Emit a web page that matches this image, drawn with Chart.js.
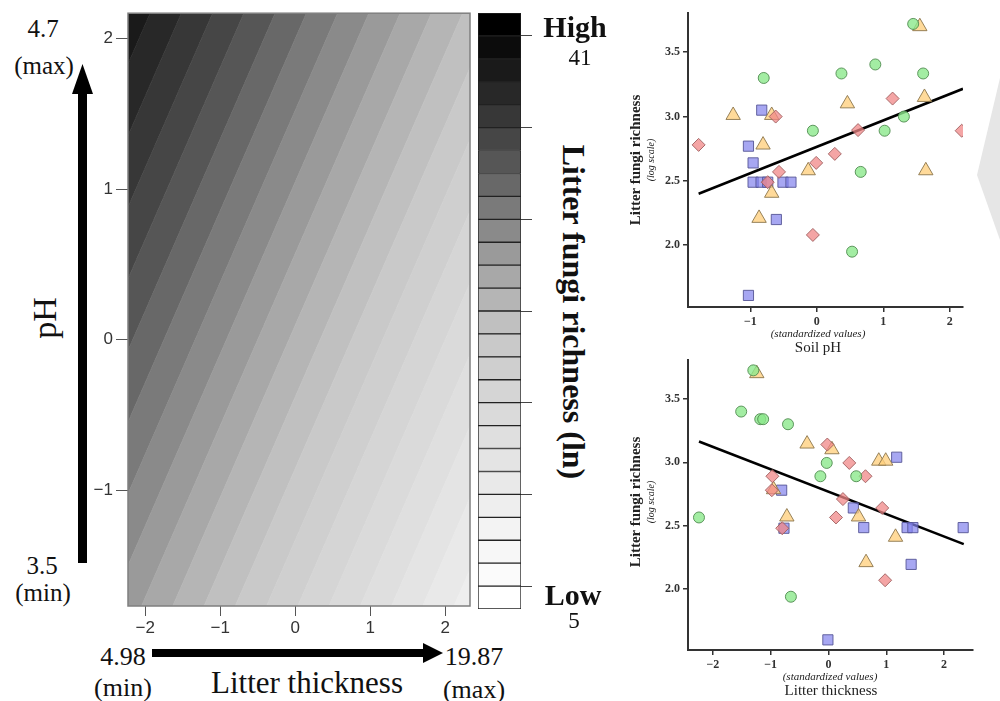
<!DOCTYPE html>
<html>
<head>
<meta charset="utf-8">
<script src="https://cdn.jsdelivr.net/npm/chart.js@4.4.1/dist/chart.umd.min.js"></script>
<style>
  html, body { margin: 0; padding: 0; background: #fff; }
  #page { position: relative; width: 1000px; height: 701px; overflow: hidden; font-family: "Liberation Serif", "Times New Roman", serif; color: #111; }
  canvas { position: absolute; }
  svg { position: absolute; left: 0; top: 0; }
  .t { position: absolute; transform: translate(-50%, -50%); white-space: nowrap; line-height: 1; }
  .up { transform: translate(-50%, -50%) rotate(-90deg); }
  .down { transform: translate(-50%, -50%) rotate(90deg); }
  .b { font-weight: bold; }
  .i { font-style: italic; }
</style>
</head>
<body>
<div id="page">
  <svg width="1000" height="701">
    <polygon points="1000,78 977,175 1000,240" fill="#e6e6e6"/>
    <rect x="78" y="90" width="9" height="473" fill="#000"/>
    <polygon points="72,94 93,94 82.5,64" fill="#000"/>
    <rect x="152" y="649" width="274" height="8" fill="#000"/>
    <polygon points="423,643 423,663 443,653" fill="#000"/>
  </svg>

  <canvas id="heat" width="400" height="640" style="left:90px;top:0"></canvas>
  <canvas id="bar" width="80" height="640" style="left:470px;top:0"></canvas>
  <canvas id="ph" width="370" height="360" style="left:620px;top:0"></canvas>
  <canvas id="lit" width="370" height="350" style="left:620px;top:350px"></canvas>

  <div class="t" style="left:43px;top:28px;font-size:25px">4.7</div>
  <div class="t" style="left:44px;top:65px;font-size:25px">(max)</div>
  <div class="t up" style="left:45px;top:318px;font-size:34px">pH</div>
  <div class="t" style="left:42px;top:565px;font-size:25px">3.5</div>
  <div class="t" style="left:43px;top:592px;font-size:25px">(min)</div>
  <div class="t" style="left:123px;top:657px;font-size:26px">4.98</div>
  <div class="t" style="left:123px;top:688px;font-size:26px">(min)</div>
  <div class="t" style="left:307px;top:682px;font-size:31px">Litter thickness</div>
  <div class="t" style="left:474px;top:657px;font-size:26px">19.87</div>
  <div class="t" style="left:474px;top:690px;font-size:26px">(max)</div>

  <div class="t b" style="left:575px;top:27px;font-size:30px">High</div>
  <div class="t" style="left:580px;top:57px;font-size:23px">41</div>
  <div class="t b down" style="left:574px;top:312px;font-size:32px">Litter fungi richness (ln)</div>
  <div class="t b" style="left:573px;top:595px;font-size:30px">Low</div>
  <div class="t" style="left:574px;top:620px;font-size:23px">5</div>

  <div class="t b up" style="left:635px;top:160px;font-size:15px;color:#222">Litter fungi richness</div>
  <div class="t i up" style="left:651px;top:160px;font-size:10px;color:#222">(log scale)</div>
  <div class="t i" style="left:818px;top:333px;font-size:11px;color:#222">(standardized values)</div>
  <div class="t" style="left:818px;top:347px;font-size:15px;color:#222">Soil pH</div>

  <div class="t b up" style="left:635px;top:502px;font-size:15px;color:#222">Litter fungi richness</div>
  <div class="t i up" style="left:651px;top:502px;font-size:10px;color:#222">(log scale)</div>
  <div class="t i" style="left:830px;top:676px;font-size:11px;color:#222">(standardized values)</div>
  <div class="t" style="left:831px;top:690px;font-size:15px;color:#222">Litter thickness</div>
</div>

<script>
Chart.defaults.animation = false;
Chart.defaults.font.family = '"Liberation Serif", "Times New Roman", serif';

// ---- left panel: predicted richness surface, in colour-bar steps ----
const heatTicksX = [-2, -1, 0, 1, 2];
const heatTicksY = [-1, 0, 1, 2];
const levelAtCentre = 13.8;   // step at litter 0, pH 0
const litterSlope = -2.4;     // steps per SD of litter thickness
const phSlope = 2.1;          // steps per SD of pH
const contourEnds = [-3, 3];  // litter values where each contour line is cut

// colour bar, 26 steps, top (high) to bottom (low)
const levelGreys = [0, 12, 26, 40, 55, 70, 86, 104, 122, 138, 154, 168, 181,
                    192, 201, 207, 213, 218, 223, 228, 233, 238, 243, 247, 251, 255];
const barTicks = [1, 5, 9, 13, 17, 21, 25];

// ---- right panels: observations (standardized x, log richness) ----
const phCircles = [[1.45,3.72],[-0.80,3.30],[0.37,3.335],[0.88,3.405],[1.60,3.335],[-0.06,2.89],[1.02,2.89],[1.31,3.00],[0.66,2.57],[0.53,1.95]];
const phTriangles = [[1.55,3.70],[-1.26,3.01],[-0.68,3.01],[0.46,3.10],[1.62,3.15],[-0.81,2.78],[-0.13,2.58],[1.64,2.58],[-0.68,2.405],[-0.87,2.21]];
const phDiamonds = [[-1.78,2.78],[-0.62,3.00],[0.62,2.895],[1.14,3.14],[2.18,2.89],[0.27,2.71],[-0.01,2.64],[-0.57,2.57],[-0.74,2.49],[-0.06,2.08]];
const phSquares = [[-0.83,3.05],[-1.03,2.77],[-0.96,2.64],[-0.96,2.49],[-0.84,2.49],[-0.74,2.49],[-0.51,2.49],[-0.39,2.49],[-0.61,2.20],[-1.03,1.61]];
const phFit = [[-1.78,2.40],[2.20,3.216]];

const litCircles = [[-1.30,3.725],[-1.51,3.40],[-1.18,3.34],[-1.13,3.34],[-0.70,3.30],[-0.03,2.995],[-0.14,2.89],[0.48,2.89],[-2.24,2.565],[-0.65,1.94]];
const litTriangles = [[-1.24,3.70],[-0.37,3.145],[0.06,3.10],[0.87,3.01],[0.99,3.01],[-0.95,2.785],[-0.72,2.57],[0.52,2.57],[1.16,2.41],[0.65,2.21]];
const litDiamonds = [[-0.02,3.14],[0.36,2.995],[0.64,2.89],[-0.97,2.89],[-0.98,2.78],[0.25,2.71],[0.93,2.64],[0.13,2.565],[-0.80,2.48],[0.98,2.07]];
const litSquares = [[1.18,3.04],[-0.81,2.78],[0.43,2.64],[0.61,2.485],[1.36,2.485],[1.46,2.485],[2.33,2.485],[-0.77,2.48],[1.43,2.195],[-0.01,1.60]];
const litFit = [[-2.24,3.164],[2.34,2.355]];

const richTicks = [2.0, 2.5, 3.0, 3.5];

// helpers
const minus = v => String(v).replace('-', '\u2212');
const fixTicks = list => scale => { scale.ticks = list.map(v => ({ value: v })); };
const setSize = (prop, n) => scale => { scale[prop] = n; };
const grey = k => { const g = levelGreys[25 - k]; return 'rgb(' + g + ',' + g + ',' + g + ')'; };
const pts = pairs => pairs.map(p => ({ x: p[0], y: p[1] }));

const frame = {
  id: 'frame',
  afterDatasetsDraw(chart) {
    const a = chart.chartArea, ctx = chart.ctx;
    ctx.save();
    ctx.strokeStyle = '#7f7f7f';
    ctx.lineWidth = 1.5;
    ctx.strokeRect(a.left, a.top, a.right - a.left, a.bottom - a.top);
    ctx.restore();
  }
};

// contour line j is where the surface reaches step j; band j-1 lies below it
const heatSets = [];
for (let j = 0; j <= 26; j++) {
  const c = j === 0 ? '#ffffff' : grey(j - 1);
  heatSets.push({
    data: contourEnds.map(x => ({ x: x, y: (j - levelAtCentre - litterSlope * x) / phSlope })),
    fill: j === 0 ? 'start' : '-1',
    backgroundColor: c,
    borderColor: c,
    borderWidth: 1,
    pointRadius: 0,
    tension: 0
  });
}

const heatTickFont = { family: '"Liberation Sans", Arial, sans-serif', size: 17 };

new Chart(document.getElementById('heat'), {
  type: 'line',
  data: { datasets: heatSets },
  options: {
    responsive: false,
    layout: { padding: { top: 13, right: 20, left: 0, bottom: 0 } },
    plugins: { legend: { display: false }, tooltip: { enabled: false } },
    scales: {
      x: {
        type: 'linear', min: -2.23, max: 2.33,
        afterBuildTicks: fixTicks(heatTicksX), afterFit: setSize('height', 34),
        grid: { drawOnChartArea: false, tickLength: 10, color: '#555' },
        border: { display: false },
        ticks: { font: heatTickFont, color: '#333', padding: 2, autoSkip: false, maxRotation: 0, callback: minus }
      },
      y: {
        type: 'linear', min: -1.77, max: 2.17,
        afterBuildTicks: fixTicks(heatTicksY), afterFit: setSize('width', 38),
        grid: { drawOnChartArea: false, tickLength: 12, color: '#555' },
        border: { display: false },
        ticks: { font: heatTickFont, color: '#333', padding: 3, autoSkip: false, callback: minus }
      }
    }
  },
  plugins: [frame]
});

// colour bar
new Chart(document.getElementById('bar'), {
  type: 'bar',
  data: {
    labels: [''],
    datasets: levelGreys.map((g, k) => ({
      data: [[k, k + 1]],
      backgroundColor: grey(k),
      borderColor: '#222',
      borderWidth: 1,
      borderSkipped: false,
      grouped: false,
      barPercentage: 1,
      categoryPercentage: 1
    }))
  },
  options: {
    responsive: false,
    layout: { padding: { top: 13, bottom: 31, left: 8, right: 0 } },
    plugins: { legend: { display: false }, tooltip: { enabled: false } },
    scales: {
      x: { display: false },
      y: {
        position: 'right', min: 0, max: 26,
        afterBuildTicks: fixTicks(barTicks), afterFit: setSize('width', 29),
        ticks: { display: false },
        grid: { drawOnChartArea: false, tickLength: 11, color: '#444' },
        border: { display: false }
      }
    }
  }
});

function marker(pairs, style, radius, fill, edge) {
  return {
    data: pts(pairs), pointStyle: style, pointRadius: radius,
    backgroundColor: fill, borderColor: edge, borderWidth: 1, order: 0
  };
}

function scatterPanel(id, groups, fit, xMin, xMax, xTicks, pad, xHeight) {
  const tickFont = { weight: 'bold', size: 12 };
  return new Chart(document.getElementById(id), {
    type: 'scatter',
    data: {
      datasets: [
        marker(groups[0], 'circle', 5.5, 'rgba(140,232,140,0.8)', 'rgba(80,140,80,0.9)'),
        marker(groups[2], 'rectRot', 6.5, 'rgba(240,135,135,0.75)', 'rgba(160,95,95,0.9)'),
        marker(groups[1], 'triangle', 8.3, 'rgba(255,208,125,0.78)', 'rgba(140,118,75,0.9)'),
        marker(groups[3], 'rect', 7.2, 'rgba(130,130,236,0.7)', 'rgba(85,85,150,0.9)'),
        { type: 'line', data: pts(fit), borderColor: '#000', borderWidth: 2.5, pointRadius: 0, order: 1 }
      ]
    },
    options: {
      responsive: false,
      layout: { padding: pad },
      plugins: { legend: { display: false }, tooltip: { enabled: false } },
      scales: {
        x: {
          type: 'linear', min: xMin, max: xMax,
          afterBuildTicks: fixTicks(xTicks), afterFit: setSize('height', xHeight),
          grid: { drawOnChartArea: false, tickLength: 5, color: '#333', lineWidth: 1.5 },
          border: { display: true, color: '#333', width: 2 },
          ticks: { font: tickFont, color: '#333', padding: 3, autoSkip: false, maxRotation: 0, callback: minus }
        },
        y: {
          type: 'linear', min: 1.52, max: 3.805,
          afterBuildTicks: fixTicks(richTicks), afterFit: setSize('width', 68),
          grid: { drawOnChartArea: false, tickLength: 5, color: '#333', lineWidth: 1.5 },
          border: { display: true, color: '#333', width: 2 },
          ticks: { font: tickFont, color: '#333', padding: 3, autoSkip: false, callback: v => v.toFixed(1) }
        }
      }
    }
  });
}

scatterPanel('ph', [phCircles, phTriangles, phDiamonds, phSquares], phFit,
  -1.94, 2.2, [-1, 0, 1, 2], { top: 13, right: 27, left: 0, bottom: 0 }, 53);
scatterPanel('lit', [litCircles, litTriangles, litDiamonds, litSquares], litFit,
  -2.43, 2.5, [-2, -1, 0, 1, 2], { top: 7, right: 17, left: 0, bottom: 0 }, 50);
</script>
</body>
</html>
